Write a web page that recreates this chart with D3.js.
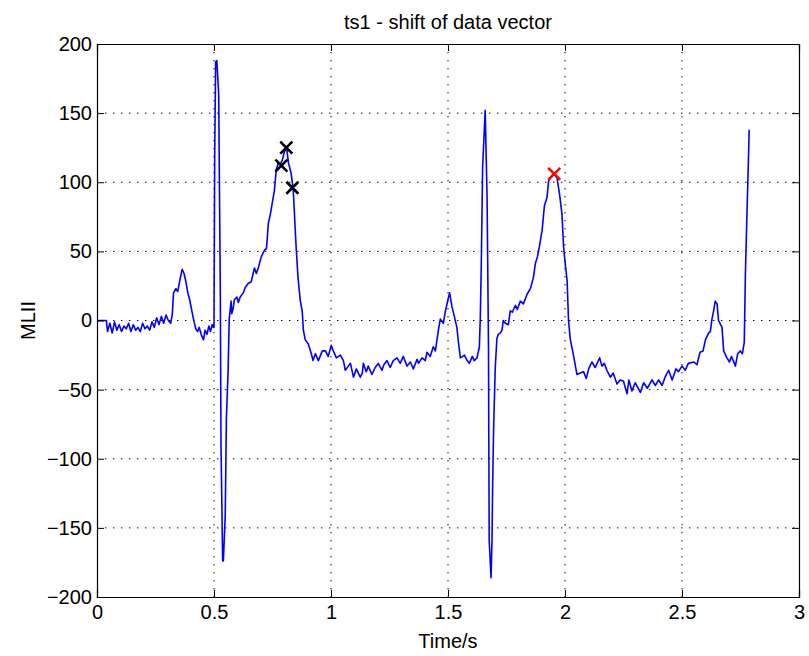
<!DOCTYPE html>
<html>
<head>
<meta charset="utf-8">
<title>ts1 - shift of data vector</title>
<style>
  body { margin: 0; background: #fff; }
  svg text { font-family: "Liberation Sans", Arial, sans-serif; fill: #000; }
  .axis path, .axis line { stroke: #000; }
  .grid line { stroke: #000; stroke-dasharray: 1.4,6.6; }
</style>
</head>
<body>
<div id="chart"></div>
<script src="https://cdn.jsdelivr.net/npm/d3@7"></script>
<script>
// time in seconds, MLII amplitude
const timeS = [
  0, 0.040, 0.045, 0.055, 0.065, 0.075, 0.085, 0.095, 0.105, 0.115, 0.125, 0.135, 0.145, 0.155,
  0.165, 0.175, 0.185, 0.195, 0.205, 0.215, 0.225, 0.235, 0.245, 0.255, 0.265, 0.275, 0.285,
  0.295, 0.305, 0.315, 0.322, 0.327, 0.337, 0.345, 0.355, 0.364, 0.372, 0.380, 0.388, 0.396,
  0.403, 0.410, 0.415, 0.422, 0.430, 0.437, 0.445, 0.455, 0.462, 0.470, 0.478, 0.485, 0.492,
  0.497, 0.500, 0.503, 0.507, 0.512, 0.520, 0.527, 0.530, 0.537, 0.540, 0.548, 0.553, 0.560,
  0.565, 0.573, 0.576, 0.581, 0.587, 0.598, 0.604, 0.612, 0.625, 0.634, 0.647, 0.659, 0.673,
  0.681, 0.689, 0.702, 0.716, 0.724, 0.728, 0.732, 0.741, 0.749, 0.758, 0.766, 0.775, 0.783,
  0.792, 0.802, 0.812, 0.818, 0.829, 0.838, 0.843, 0.850, 0.859, 0.869, 0.877, 0.882, 0.890,
  0.903, 0.916, 0.923, 0.933, 0.946, 0.963, 0.976, 0.988, 1.001, 1.010, 1.023, 1.040, 1.053,
  1.061, 1.074, 1.083, 1.096, 1.108, 1.125, 1.134, 1.138, 1.151, 1.159, 1.175, 1.189, 1.202,
  1.218, 1.226, 1.239, 1.253, 1.266, 1.282, 1.296, 1.309, 1.325, 1.339, 1.352, 1.368, 1.374,
  1.389, 1.403, 1.410, 1.424, 1.437, 1.446, 1.459, 1.467, 1.480, 1.488, 1.501, 1.507, 1.517,
  1.527, 1.538, 1.544, 1.553, 1.570, 1.582, 1.591, 1.604, 1.612, 1.624, 1.634, 1.638, 1.642,
  1.648, 1.659, 1.667, 1.673, 1.676, 1.684, 1.688, 1.691, 1.695, 1.702, 1.709, 1.715, 1.724,
  1.731, 1.736, 1.745, 1.758, 1.766, 1.775, 1.788, 1.796, 1.809, 1.822, 1.838, 1.852, 1.865,
  1.873, 1.882, 1.890, 1.902, 1.912, 1.923, 1.930, 1.944, 1.955, 1.966, 1.977, 1.987, 1.994,
  2.001, 2.009, 2.015, 2.023, 2.035, 2.051, 2.065, 2.079, 2.091, 2.101, 2.115, 2.129, 2.148,
  2.158, 2.168, 2.179, 2.194, 2.206, 2.222, 2.236, 2.250, 2.265, 2.273, 2.286, 2.300, 2.322,
  2.336, 2.352, 2.372, 2.386, 2.400, 2.415, 2.430, 2.443, 2.458, 2.474, 2.485, 2.500, 2.514,
  2.527, 2.550, 2.564, 2.577, 2.590, 2.600, 2.614, 2.621, 2.628, 2.635, 2.642, 2.650, 2.656,
  2.671, 2.678, 2.692, 2.703, 2.711, 2.719, 2.728, 2.738, 2.749, 2.758, 2.766, 2.771, 2.778,
  2.785, 2.787
];
const mlii = [
  0, 0, -8, -2, -9, -1, -7, -3, -8, -4, -6, -2, -8, -3,
  -7, -5, -8, -2, -6, -4, -7, -1, -5, 2, -3, 3, -2,
  4, 0, -2, 5, 20, 23, 21, 30, 37, 34, 28, 20, 15,
  9, 3, -1, -6, -8, -5, -10, -14, -7, -10, -4, -8, -3,
  -5, -5, 120, 187, 188, 164, 20, -91, -174, -174, -141, -70, -38,
  1, 14, 5, 8, 15, 17, 13, 17, 20, 24, 27, 28, 38,
  34, 38, 46, 51, 52, 60, 70, 77, 85, 94, 109, 114, 113,
  116, 123, 123, 114, 107, 96, 80, 56, 31, 14, 7, -7, -14,
  -17, -24, -29, -24, -29, -22, -22, -26, -18, -22, -27, -25, -29,
  -36, -33, -31, -41, -35, -41, -38, -31, -37, -33, -39, -34, -31,
  -36, -32, -29, -34, -29, -27, -31, -26, -33, -30, -35, -28, -31,
  -27, -29, -23, -26, -19, -22, -7, 1, -2, 6, 16, 20, 10,
  3, -5, -15, -27, -25, -29, -31, -26, -29, -27, -19, 2, 38,
  111, 152, 89, -19, -159, -186, -159, -117, -77, -34, -13, -10, -9,
  -7, 0, -2, -3, 7, 6, 11, 8, 14, 12, 19, 23, 31,
  41, 46, 53, 65, 83, 89, 101, 105, 106, 103, 91, 77, 53,
  41, 29, 0, -14, -24, -39, -38, -37, -42, -35, -30, -34, -27,
  -33, -31, -36, -41, -38, -46, -43, -44, -53, -43, -51, -45, -52,
  -45, -49, -43, -47, -43, -47, -40, -36, -43, -35, -37, -33, -36,
  -31, -30, -32, -23, -22, -14, -9, -8, 1, 7, 14, 12, 0,
  -5, -22, -27, -30, -26, -29, -33, -24, -22, -24, -16, 34, 80,
  123, 138
];

// detected points
const blackMarkT = [0.788, 0.809, 0.835];
const blackMarkV = [112, 125, 96];
const redMarkT = [1.954];
const redMarkV = [106];

const xTicks = [0, 0.5, 1, 1.5, 2, 2.5, 3];
const yTicks = [-200, -150, -100, -50, 0, 50, 100, 150, 200];

const W = 809, H = 656;
const margin = { top: 44, right: 10, bottom: 59, left: 97 };
const width = W - margin.left - margin.right;
const height = H - margin.top - margin.bottom;

const x = d3.scaleLinear().domain([0, 3]).range([0, width]);
const y = d3.scaleLinear().domain([-200, 200]).range([height, 0]);

const svg = d3.select('#chart').append('svg')
  .attr('width', W).attr('height', H);

const g = svg.append('g')
  .attr('transform', `translate(${margin.left},${margin.top})`);

// grid
g.append('g').attr('class', 'grid')
  .selectAll('line').data(xTicks.slice(1, -1)).join('line')
  .attr('x1', d => x(d)).attr('x2', d => x(d))
  .attr('y1', 0).attr('y2', height);
g.append('g').attr('class', 'grid')
  .selectAll('line').data(yTicks.slice(1, -1)).join('line')
  .attr('x1', 0).attr('x2', width)
  .attr('y1', d => y(d)).attr('y2', d => y(d));

// trace
const line = d3.line().x((d, i) => x(timeS[i])).y(d => y(d));
g.append('path')
  .datum(mlii)
  .attr('d', line)
  .attr('fill', 'none')
  .attr('stroke', '#0000ff')
  .attr('stroke-width', 1.6)
  .attr('stroke-linejoin', 'round');

// markers
function cross(sel, ts, vs, color) {
  const s = 6;
  sel.selectAll(null).data(ts).join('path')
    .attr('d', (d, i) => {
      const cx = x(d), cy = y(vs[i]);
      return `M${cx - s},${cy - s}L${cx + s},${cy + s}M${cx - s},${cy + s}L${cx + s},${cy - s}`;
    })
    .attr('stroke', color)
    .attr('stroke-width', 2.6)
    .attr('fill', 'none');
}
cross(g.append('g'), blackMarkT, blackMarkV, '#000');
cross(g.append('g'), redMarkT, redMarkV, '#ff0000');

// axes, ticks inward
const fs = '20px';
g.append('g').attr('class', 'axis')
  .attr('transform', `translate(0,${height})`)
  .call(d3.axisBottom(x).tickValues(xTicks).tickFormat(d3.format('')).tickSize(-7).tickPadding(8))
  .call(a => a.selectAll('text').style('font-size', fs));
g.append('g').attr('class', 'axis')
  .call(d3.axisTop(x).tickValues(xTicks).tickFormat('').tickSize(-7));
g.append('g').attr('class', 'axis')
  .call(d3.axisLeft(y).tickValues(yTicks).tickSize(-7).tickPadding(5))
  .call(a => a.selectAll('text').style('font-size', fs));
g.append('g').attr('class', 'axis')
  .attr('transform', `translate(${width},0)`)
  .call(d3.axisRight(y).tickValues(yTicks).tickFormat('').tickSize(-7));
g.selectAll('.axis path').attr('stroke-width', 1.2);

// labels
svg.append('text')
  .attr('x', margin.left + width / 2).attr('y', 29)
  .attr('text-anchor', 'middle').style('font-size', '20px')
  .text('ts1 - shift of data vector');
svg.append('text')
  .attr('x', margin.left + width / 2).attr('y', 648)
  .attr('text-anchor', 'middle').style('font-size', '20px')
  .text('Time/s');
svg.append('text')
  .attr('transform', `translate(35,${margin.top + height / 2}) rotate(-90)`)
  .attr('text-anchor', 'middle').style('font-size', '20px')
  .text('MLII');
</script>
</body>
</html>
